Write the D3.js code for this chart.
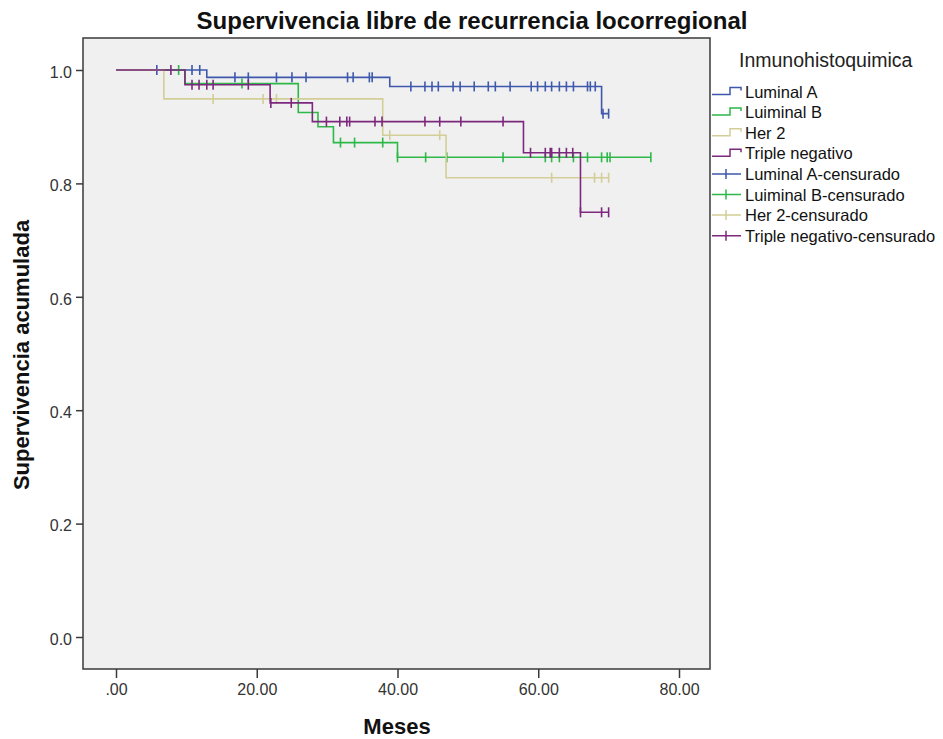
<!DOCTYPE html>
<html>
<head>
<meta charset="utf-8">
<script src="https://cdn.jsdelivr.net/npm/d3@7"></script>
<style>
  body { margin: 0; background: #fff; }
  svg { font-family: Arial, "Liberation Sans", sans-serif; }
</style>
</head>
<body>
<svg width="943" height="739"></svg>
<script>
// groups and colours (SPSS defaults)
const groups = ["Luminal A", "Luiminal B", "Her 2", "Triple negativo"];
const colors = ["#3e58ac", "#2eb848", "#d3ce97", "#7c287d"];

// step points: time where survival changes, and survival after it
const lumATimes = [0, 12.9, 38.9, 69];
const lumASurv = [1, 0.987, 0.971, 0.923];
const lumAEnd = 70;
const lumACensor = [5.8, 10.8, 11.9, 16.9, 18.8, 22.8, 25, 27, 32.9, 33.7, 36, 36.4,
  41.9, 43.9, 44.9, 45.8, 47.9, 48.9, 50.9, 52.9, 53.9, 56, 59, 59.9, 61, 61.9, 63,
  64, 65, 67, 67.4, 68.1, 69.2, 70];

const lumBTimes = [0, 9.8, 25.9, 28.7, 30.9, 40];
const lumBSurv = [1, 0.976, 0.925, 0.9, 0.872, 0.846];
const lumBEnd = 76;
const lumBCensor = [8.9, 17.9, 31.9, 33.9, 37.9, 40, 44, 47, 55, 61, 61.9, 63, 65,
  67, 69, 69.8, 70.2, 76];

const her2Times = [0, 6.8, 37.9, 46.9];
const her2Surv = [1, 0.949, 0.885, 0.81];
const her2End = 70;
const her2Censor = [13.8, 20.9, 22.8, 38.9, 46, 61.9, 68, 69, 70];

const tnTimes = [0, 9.8, 21.9, 27.9, 57.9, 66];
const tnSurv = [1, 0.974, 0.942, 0.909, 0.854, 0.749];
const tnEnd = 70;
const tnCensor = [7.8, 10.8, 11.8, 12.9, 13.8, 18.8, 22, 24.9, 29.9, 31.8, 32.8, 33.2,
  36.8, 37.8, 43.9, 46, 49, 55, 58.9, 61, 61.7, 61.9, 63, 64, 64.9, 66, 69, 70];

const xTicks = [0, 20, 40, 60, 80];
const yTicks = [0, 0.2, 0.4, 0.6, 0.8, 1.0];

const series = [
  { times: lumATimes, surv: lumASurv, end: lumAEnd, censor: lumACensor },
  { times: lumBTimes, surv: lumBSurv, end: lumBEnd, censor: lumBCensor },
  { times: her2Times, surv: her2Surv, end: her2End, censor: her2Censor },
  { times: tnTimes, surv: tnSurv, end: tnEnd, censor: tnCensor },
];

const frame = { left: 83, top: 38, right: 710, bottom: 669 };

const x = d3.scaleLinear().domain([0, 80]).range([116, 679]);
const y = d3.scaleLinear().domain([0, 1]).range([637, 70]);

const svg = d3.select("svg");

svg.append("rect")
  .attr("x", frame.left).attr("y", frame.top)
  .attr("width", frame.right - frame.left)
  .attr("height", frame.bottom - frame.top)
  .attr("fill", "#f0f0f0");

// survival at time t
function survAt(s, t) {
  let v = s.surv[0];
  s.times.forEach((tt, i) => { if (tt <= t) v = s.surv[i]; });
  return v;
}

const line = d3.line()
  .x(d => x(d[0]))
  .y(d => y(d[1]))
  .curve(d3.curveStepAfter);

series.forEach((s, i) => {
  const pts = s.times.map((t, j) => [t, s.surv[j]]);
  pts.push([s.end, s.surv[s.surv.length - 1]]);
  const g = svg.append("g");
  g.append("path")
    .attr("d", line(pts))
    .attr("fill", "none")
    .attr("stroke", colors[i])
    .attr("stroke-width", 1.6);
  g.selectAll("line")
    .data(s.censor)
    .join("line")
    .attr("x1", d => x(d)).attr("x2", d => x(d))
    .attr("y1", d => y(survAt(s, d)) - 5)
    .attr("y2", d => y(survAt(s, d)) + 5)
    .attr("stroke", colors[i])
    .attr("stroke-width", 1.6);
});

svg.append("rect")
  .attr("x", frame.left).attr("y", frame.top)
  .attr("width", frame.right - frame.left)
  .attr("height", frame.bottom - frame.top)
  .attr("fill", "none")
  .attr("stroke", "#3a3a3a")
  .attr("stroke-width", 1.5);

// axes
const yAxis = svg.append("g")
  .attr("transform", `translate(${frame.left},0)`)
  .call(d3.axisLeft(y).tickValues(yTicks).tickFormat(d3.format(".1f")).tickSize(7).tickPadding(4));
const xAxis = svg.append("g")
  .attr("transform", `translate(0,${frame.bottom})`)
  .call(d3.axisBottom(x).tickValues(xTicks)
    .tickFormat(d => d === 0 ? ".00" : d.toFixed(2)).tickSize(9).tickPadding(6));

[yAxis, xAxis].forEach(a => {
  a.select(".domain").remove();
  a.selectAll(".tick line").attr("stroke", "#3a3a3a").attr("stroke-width", 1.5);
  a.selectAll(".tick text")
    .attr("fill", "#333")
    .style("font-size", "16px")
    .style("font-family", "Arial, 'Liberation Sans', sans-serif");
});
yAxis.selectAll(".tick text").attr("dy", "0.45em");

svg.append("text")
  .attr("x", 472).attr("y", 29)
  .attr("text-anchor", "middle")
  .style("font-size", "24px").style("font-weight", "bold")
  .attr("fill", "#111")
  .text("Supervivencia libre de recurrencia locorregional");

svg.append("text")
  .attr("x", 397).attr("y", 734)
  .attr("text-anchor", "middle")
  .style("font-size", "22px").style("font-weight", "bold")
  .attr("fill", "#111")
  .text("Meses");

svg.append("text")
  .attr("transform", "translate(29,355) rotate(-90)")
  .attr("text-anchor", "middle")
  .style("font-size", "22px").style("font-weight", "bold")
  .attr("fill", "#111")
  .text("Supervivencia acumulada");

// legend
const legend = svg.append("g");
legend.append("text")
  .attr("x", 739).attr("y", 67)
  .style("font-size", "19.5px")
  .attr("fill", "#222")
  .text("Inmunohistoquimica");

const legendItems = groups.map((g, i) => ({ label: g, color: colors[i], censored: false }))
  .concat(groups.map((g, i) => ({ label: g + "-censurado", color: colors[i], censored: true })));

legendItems.forEach((d, i) => {
  const cy = 91.5 + i * 20.6;
  if (d.censored) {
    legend.append("path")
      .attr("d", `M712,${cy}H741M726,${cy - 5}V${cy + 5}`)
      .attr("stroke", d.color).attr("fill", "none").attr("stroke-width", 1.5);
  } else {
    legend.append("path")
      .attr("d", `M712,${cy + 3}H730V${cy - 4}H741V${cy - 1}`)
      .attr("stroke", d.color).attr("fill", "none").attr("stroke-width", 1.5);
  }
  legend.append("text")
    .attr("x", 745).attr("y", cy + 6)
    .style("font-size", "16.5px")
    .attr("fill", "#111")
    .text(d.label);
});
</script>
</body>
</html>
